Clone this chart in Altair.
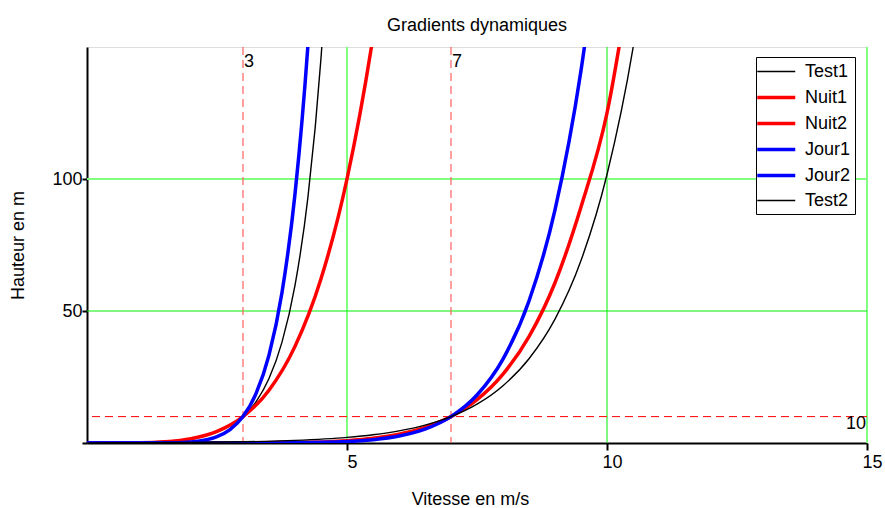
import altair as alt
import pandas as pd

# Wind speed (m/s) against height (m) for each profile
series_order = ["Test1", "Nuit1", "Nuit2", "Jour1", "Jour2", "Test2"]
series_colors = ["#000000", "#ff0000", "#ff0000", "#0000ff", "#0000ff", "#000000"]
series_widths = [1.4, 3.5, 3.5, 3.5, 3.5, 1.4]

test1_v = [0, 0.5, 1, 1.5, 2, 2.5, 3, 3.25, 3.5, 3.75, 4, 4.25, 4.5, 4.75]
test1_h = [0.047, 0.115, 0.28, 0.69, 1.68, 4.09, 10.0, 15.6, 24.4, 38.2, 59.7, 93.3, 145.8, 228]

nuit1_v = [0, 1, 1.5, 2, 2.5, 3, 3.5, 4, 4.5, 5, 5.5, 5.75]
nuit1_h = [0, 0.07, 0.44, 1.61, 4.40, 10, 20.0, 36.6, 62.2, 100, 153.8, 188]

nuit2_v = [0, 3, 4, 5, 5.5, 6, 6.5, 7, 7.5, 8, 8.5, 9, 9.5, 10, 10.5]
nuit2_h = [0, 0.023, 0.18, 0.89, 1.77, 3.31, 5.88, 10, 16.4, 26.1, 40.3, 60.7, 89.4, 125, 183]

jour1_v = [0, 1, 1.5, 2, 2.25, 2.5, 2.75, 3, 3.25, 3.5, 3.75, 4, 4.25, 4.4]
jour1_h = [0, 0.002, 0.045, 0.42, 1.06, 2.41, 5.07, 10, 18.7, 33.3, 57.0, 94.3, 151, 198]

jour2_v = [0, 3, 4, 5, 5.5, 6, 6.5, 7, 7.5, 8, 8.5, 9, 9.5, 9.75]
jour2_h = [0, 0.0065, 0.078, 0.54, 1.24, 2.63, 5.26, 10, 18.2, 31.8, 53.8, 88.3, 141.1, 176.7]

test2_v = [0, 1, 2, 3, 4, 5, 5.5, 6, 6.5, 7, 7.5, 8, 8.5, 9, 9.5, 10, 10.5, 11]
test2_h = [0.045, 0.097, 0.21, 0.45, 0.98, 2.13, 3.14, 4.61, 6.79, 10.0, 14.7, 21.7, 31.9, 46.9, 69.1, 101.7, 149.6, 220]

# Reference markers: speeds at 10 m and the 10 m level itself
ref_speeds = [3, 7]
ref_height = [10]

# Grid lines
grid_x_pale = [5, 15]
grid_x_bright = [10]
grid_y_pale = [100]
grid_y_bright = [50]

profiles = {
    "Test1": (test1_v, test1_h),
    "Nuit1": (nuit1_v, nuit1_h),
    "Nuit2": (nuit2_v, nuit2_h),
    "Jour1": (jour1_v, jour1_h),
    "Jour2": (jour2_v, jour2_h),
    "Test2": (test2_v, test2_h),
}

rows = []
for name in series_order:
    vs, hs = profiles[name]
    for i, (v, h) in enumerate(zip(vs, hs)):
        rows.append({"serie": name, "v": v, "h": h, "idx": i})
df = pd.DataFrame(rows)

FONT = "Liberation Sans"
FS = 18

x_scale = alt.Scale(domain=[0, 15], nice=False, zero=False)
y_scale = alt.Scale(domain=[0, 150], nice=False, zero=False)

x_axis = alt.Axis(
    title="Vitesse en m/s", values=[5, 10, 15], grid=False,
    labelFontSize=FS, labelFont=FONT, labelColor="black", labelPadding=3,
    labelAngle=0, labelOffset=5, labelFlush=False,
    titleFontSize=FS, titleFont=FONT, titleFontWeight="normal", titleColor="black",
    titlePadding=19, titleX=383, titleAlign="center",
    domainColor="black", domainWidth=2,
    tickColor="black", tickWidth=2, tickSize=7,
)
y_axis = alt.Axis(
    title="Hauteur en m", values=[0, 50, 100], grid=False,
    labelExpr="datum.value == 0 ? '' : datum.label",
    labelFontSize=FS, labelFont=FONT, labelColor="black", labelPadding=0,
    titleFontSize=FS, titleFont=FONT, titleFontWeight="normal", titleColor="black",
    titlePadding=24, domainColor="black", domainWidth=2,
    tickColor="black", tickWidth=2, tickSize=5,
)

gx_pale = alt.Chart(pd.DataFrame({"v": grid_x_pale})).mark_rule(
    color="#80ff80", strokeWidth=2).encode(x=alt.X("v:Q", scale=x_scale, axis=x_axis))
gx_bright = alt.Chart(pd.DataFrame({"v": grid_x_bright})).mark_rule(
    color="#00ee00", strokeWidth=1).encode(x=alt.X("v:Q", scale=x_scale))
gy_pale = alt.Chart(pd.DataFrame({"h": grid_y_pale})).mark_rule(
    color="#80ff80", strokeWidth=2).encode(y=alt.Y("h:Q", scale=y_scale, axis=y_axis))
gy_bright = alt.Chart(pd.DataFrame({"h": grid_y_bright})).mark_rule(
    color="#00ee00", strokeWidth=1).encode(y=alt.Y("h:Q", scale=y_scale))

ref_v = alt.Chart(pd.DataFrame({"v": ref_speeds})).mark_rule(
    color="#ff6060", strokeWidth=1.2, strokeDash=[8, 5]).encode(x=alt.X("v:Q", scale=x_scale))
ref_h = alt.Chart(pd.DataFrame({"h": ref_height})).mark_rule(
    color="#ff0000", strokeWidth=1, strokeDash=[8, 5]).encode(y=alt.Y("h:Q", scale=y_scale))

ref_v_text = alt.Chart(pd.DataFrame({"v": ref_speeds, "top": [150, 150]})).mark_text(
    align="left", baseline="top", dx=1, dy=6, fontSize=FS, font=FONT, color="black"
).encode(x=alt.X("v:Q", scale=x_scale), y=alt.Y("top:Q", scale=y_scale), text=alt.Text("v:Q"))
ref_h_text = alt.Chart(pd.DataFrame({"h": ref_height, "right": [15]})).mark_text(
    align="right", baseline="top", dx=-1, dy=-2, fontSize=FS, font=FONT, color="black"
).encode(x=alt.X("right:Q", scale=x_scale), y=alt.Y("h:Q", scale=y_scale), text=alt.Text("h:Q"))

# Legend swatch: a horizontal stroke drawn mostly to the right of the entry's anchor
legend_cfg = dict(
    title=None, orient="none", legendX=669, legendY=10,
    symbolType="M-1.5,0H2.5", symbolSize=361,
    labelFontSize=FS, labelFont=FONT, labelColor="black", labelOffset=22,
    rowPadding=5, padding=4, strokeColor="black", fillColor="white",
)

lines = alt.Chart(df).mark_line(interpolate="monotone", clip=True).encode(
    x=alt.X("v:Q", scale=x_scale),
    y=alt.Y("h:Q", scale=y_scale),
    color=alt.Color(
        "serie:N",
        scale=alt.Scale(domain=series_order, range=series_colors),
        sort=series_order,
        legend=alt.Legend(**legend_cfg),
    ),
    strokeWidth=alt.StrokeWidth(
        "serie:N",
        scale=alt.Scale(type="ordinal", domain=series_order, range=series_widths),
        sort=series_order,
        legend=alt.Legend(**legend_cfg),
    ),
    order="idx:Q",
)

chart = alt.layer(
    gx_pale, gx_bright, gy_pale, gy_bright, ref_v, ref_h, ref_v_text, ref_h_text, lines
).properties(
    width=780,
    height=396,
    title=alt.Title("Gradients dynamiques", fontSize=FS, font=FONT,
                    fontWeight="normal", color="black", anchor="middle", offset=11),
    autosize=alt.AutoSizeParams(type="none"),
    padding={"left": 87, "top": 47, "right": 18, "bottom": 65},
).configure_view(stroke=None).configure(background="white")

chart.save("out.html", embed_options={"renderer": "svg", "actions": False})
